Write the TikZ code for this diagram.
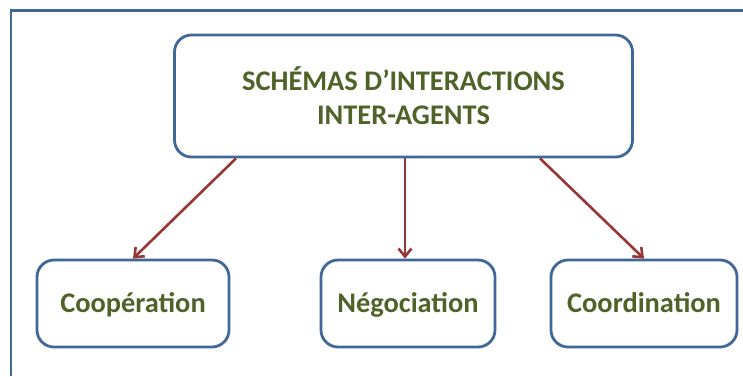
\documentclass[tikz,border=0pt]{standalone}
\usepackage{fontspec}
\setmainfont{Carlito}
\usetikzlibrary{arrows.meta}
\definecolor{boxblue}{RGB}{64,104,150}
\definecolor{arrred}{RGB}{149,55,53}
\definecolor{txtolive}{RGB}{79,98,40}
\tikzset{
  rbox/.style={draw=boxblue, line width=2.8pt, rounded corners=17pt, fill=white,
    inner sep=0pt, align=center, text=txtolive, font=\bfseries\fontsize{28.4}{34}\selectfont},
  leaf/.style={rbox, minimum height=87pt, text height=22pt, text depth=5pt},
  link/.style={draw=arrred, line width=2.6pt, -{Straight Barb[length=8pt,width=13pt,line width=2.6pt]}}
}
\begin{document}
\begin{tikzpicture}[x=1pt,y=-1pt]
\useasboundingbox (0,0) rectangle (743,376);
\fill[white] (0,0) rectangle (743,376);
\draw[boxblue, line width=2.2pt] (11,376) -- (11,10.5) -- (743,10.5);
\node[rbox, minimum width=458pt, minimum height=122pt] (top) at (403.5,96) {SCHÉMAS D’INTERACTIONS\\INTER-AGENTS};
\node[leaf, minimum width=192pt] (coop) at (133,303.5) {Coopération};
\node[leaf, minimum width=174pt] (nego) at (408,303.5) {Négociation};
\node[leaf, minimum width=186pt] (coord) at (644,303.5) {Coordination};
\draw[link] ([xshift=-167.5pt]top.south) -- (coop.north);
\draw[link] ([xshift=1.5pt]top.south) -- ([xshift=-3pt]nego.north);
\draw[link] ([xshift=136.5pt]top.south) -- (coord.north);
\end{tikzpicture}
\end{document}
